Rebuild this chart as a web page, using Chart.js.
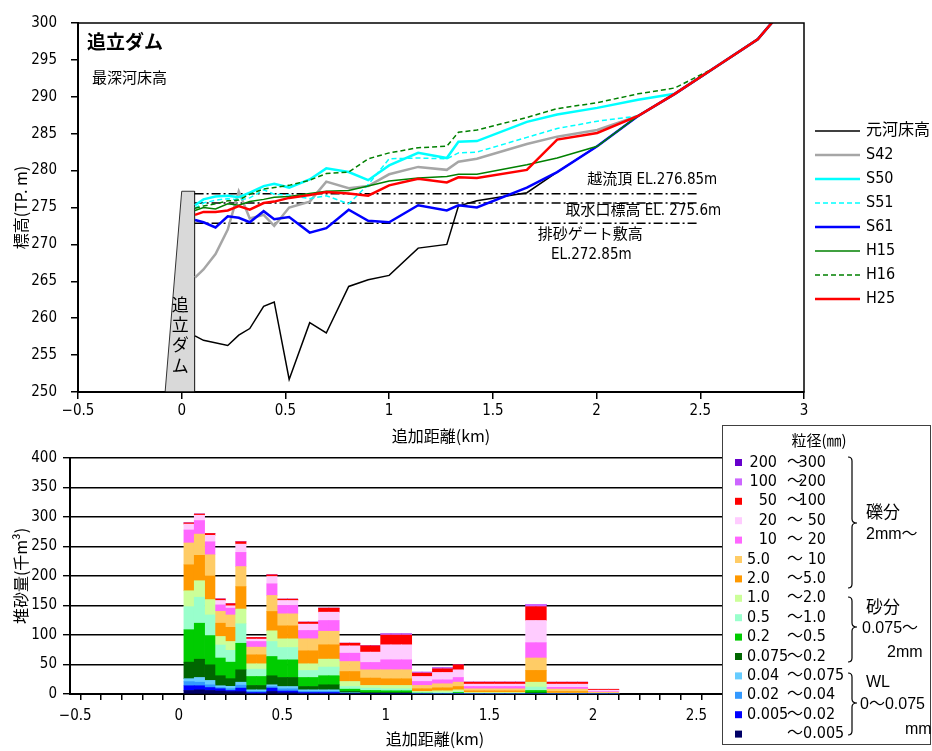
<!DOCTYPE html>
<html lang="ja">
<head>
<meta charset="utf-8">
<title>追立ダム 最深河床高・堆砂量</title>
<script src="https://cdn.jsdelivr.net/npm/chart.js@4.4.1/dist/chart.umd.min.js"></script>
<style>
  html, body { margin: 0; padding: 0; background: #fff; }
  body { width: 932px; height: 751px; position: relative; overflow: hidden; }
  canvas { position: absolute; left: 0; }
  #profile { top: 0; }
  #sediment { top: 420px; }
</style>
</head>
<body>
<canvas id="profile" width="932" height="460"></canvas>
<canvas id="sediment" width="932" height="331"></canvas>
<script>
// ---------- 最深河床高 (top) ----------
const stationKm = [0.064, 0.105, 0.163, 0.222, 0.275, 0.328, 0.395, 0.446, 0.518, 0.617, 0.697, 0.805, 0.899,
                   1.0, 1.14, 1.278, 1.334, 1.423, 1.664, 1.81, 2.003, 2.2, 2.377, 2.567, 2.777, 2.85];
const bedOriginal = [257.6, 257.0, null, 256.3, 257.7, 258.6, 261.6, 262.2, 251.7, 259.4, 258.0, 264.3, 265.2,
                     265.8, 269.5, 270.0, 275.2, 275.9, 277.0, 279.8, 283.3, 287.4, 290.4, 293.9, 297.8, 300.2];
const bedS42 = [265.5, 266.6, 268.7, 272.0, 277.2, 273.5, 274.0, 272.5, 275.0, 275.8, 278.5, 277.6, 277.9,
                279.5, 280.5, 280.1, 281.2, 281.6, 283.6, 284.6, 285.5, 287.4, 290.4, 293.9, 297.8, 300.2];
const bedS50 = [275.3, 276.1, 276.5, 276.6, 276.4, 277.0, 277.9, 278.2, 277.7, 278.8, 280.3, 279.8, 278.7,
                280.7, 282.4, 281.7, 283.9, 284.0, 286.6, 287.6, 288.5, 289.6, 290.4, 293.9, 297.8, 300.2];
const bedS51 = [274.9, 275.6, 276.0, 276.2, 276.0, 276.3, 277.4, 276.8, 276.7, 276.2, 276.6, 275.5, 278.1,
                281.6, 281.7, 281.6, 282.4, 282.5, 284.5, 285.7, 286.7, 287.4, 290.4, 293.9, 297.8, 300.2];
const bedS61 = [273.3, 273.0, 272.3, 273.8, 273.6, 273.0, 274.5, 273.4, 273.7, 271.6, 272.2, 274.7, 273.2,
                273.0, 275.3, 274.6, 275.3, 275.0, 277.7, 279.8, 283.3, 287.4, 290.4, 293.9, 297.8, 300.2];
const bedH15 = [274.6, 275.0, 274.8, 275.5, 275.3, 275.8, 276.1, 276.4, 276.5, 276.9, 277.2, 277.3, 277.9,
                278.6, 279.0, 279.2, 279.5, 279.5, 280.8, 281.7, 283.3, 287.4, 290.4, 293.9, 297.8, 300.2];
const bedH16 = [274.9, 275.2, 275.5, 275.9, 276.0, 276.8, 277.5, 277.7, 278.0, 278.7, 279.6, 279.8, 281.6,
                282.4, 283.1, 283.3, 285.2, 285.5, 287.2, 288.4, 289.2, 290.4, 291.2, 293.9, 297.8, 300.2];
const bedH25 = [274.0, 274.4, 274.4, 274.6, 275.2, 274.7, 275.6, 275.8, 276.3, 276.7, 277.1, 276.9, 276.6,
                278.0, 278.9, 278.4, 279.1, 279.0, 280.1, 284.2, 285.1, 287.4, 290.4, 293.9, 297.8, 300.2];

// dam body outline (km, EL) and the reference levels
const damKm = [-0.08, 0.0, 0.062, 0.062];
const damEL = [250, 277.2, 277.2, 250];
const crestEL = 276.85;   // 越流頂
const intakeEL = 275.6;   // 取水口標高
const sluiceEL = 272.85;  // 排砂ゲート敷高
const levelFromKm = 0.062;
const levelToKm = 2.49;

// ---------- 堆砂量 (bottom) ----------
const sectionFrom = [0.025, 0.075, 0.125, 0.175, 0.225, 0.275, 0.325, 0.425, 0.475, 0.575, 0.675,
                     0.775, 0.875, 0.975, 1.125, 1.225, 1.325, 1.375, 1.675, 1.775, 1.975];
const sectionTo   = [0.075, 0.125, 0.175, 0.225, 0.275, 0.325, 0.425, 0.475, 0.575, 0.675, 0.775,
                     0.875, 0.975, 1.125, 1.225, 1.325, 1.375, 1.675, 1.775, 1.975, 2.125];
// 千m3 per grain-size class, one value per section
const volLt0005   = [6, 7, 6, 5, 4, 4, 1, 4.3, 2, 1, 1, 0.5, 0.3, 0.3, 0, 0, 0, 0, 0, 0, 0];
const vol0005_002 = [8, 7, 5, 4, 2, 6, 1.6, 5.7, 3, 1.6, 1.6, 0.5, 0.3, 0.3, 0, 0, 0, 0, 0, 0, 0];
const vol002_004  = [7, 6, 4.5, 2, 3, 5, 1.9, 2.5, 3.8, 1.9, 1.9, 0.5, 0.3, 0.3, 0, 0, 0, 0, 0, 0, 0];
const vol004_0075 = [5, 8, 7.5, 3, 4, 5, 2.6, 3.1, 3.9, 2.6, 2.6, 0.5, 0.3, 0.3, 0, 0, 0, 0, 0, 0, 0];
const vol0075_02  = [28, 31, 26.5, 17, 13, 21, 7.4, 15.3, 15.3, 5.6, 8.5, 2.3, 1.4, 1.4, 0.5, 0, 0.5, 0, 2, 0, 0];
const vol02_05    = [55, 61, 49.5, 30, 28, 45, 15.2, 32.7, 29.9, 15.3, 15.4, 3.9, 3.4, 2.9, 1, 1, 2.1, 0, 4, 0, 0];
const vol05_1     = [39, 44, 35, 22, 20, 33, 12.4, 25.4, 20.9, 11.9, 14.6, 4.5, 4, 3.4, 1.5, 1.6, 1.7, 1, 5.7, 0, 0];
const vol1_2      = [27, 28, 26, 14.5, 15, 25, 9.1, 18.1, 14.7, 11.3, 13.5, 8.5, 4.5, 5.6, 1.4, 2.8, 2.8, 1.6, 8.3, 1.5, 0];
const vol2_5      = [44, 43, 40, 22.5, 24, 38, 15.2, 32.8, 22, 22, 24.3, 16.9, 12.5, 11.3, 4.5, 5.1, 5.6, 2.8, 20, 2.8, 1];
const vol5_10     = [37, 36, 36, 20, 21, 34, 13, 27.1, 20.4, 20.4, 22.9, 16.9, 14, 15.3, 5.6, 6.8, 7.4, 3.4, 21, 4, 2];
const vol10_20    = [22, 23, 22, 11, 11.5, 24, 9.6, 19.8, 14.1, 14.1, 18.3, 14.2, 12.5, 16.9, 6.8, 6.7, 7.9, 3.9, 26, 3, 1];
const vol20_50    = [10, 9, 11, 7.5, 4, 14, 4, 12.4, 8.5, 10.7, 14.1, 12.4, 17.5, 25.4, 8.4, 12.5, 13, 4, 37.6, 5.4, 2.5];
const vol50_100   = [2, 2, 3, 2.5, 3.5, 4, 2.8, 2.8, 2.3, 3.4, 6.8, 4.5, 10.7, 16.4, 5.7, 6.2, 8.5, 3.4, 23.4, 3.3, 1.5];
const vol100_200  = [0, 0, 0, 0, 0, 0, 0, 0, 0, 0, 0, 0, 0, 2.2, 1.6, 1.7, 0, 0, 4, 0, 0];
const vol200_300  = [0, 0, 0, 0, 0, 0, 0, 0, 0, 0, 0, 0, 0, 0, 0, 0, 0, 0, 0, 0, 0];

const NUM_FONT = "'Liberation Sans Narrow', 'DejaVu Sans Condensed', 'Noto Sans CJK JP', sans-serif";
const JP_FONT = "'Noto Sans CJK JP', sans-serif";
const SANS_FONT = "'Liberation Sans', 'Noto Sans CJK JP', sans-serif";

Chart.defaults.font.family = NUM_FONT;
Chart.defaults.font.size = 15;
Chart.defaults.color = '#000';

function kmLabel(v) {
  return String(Math.round(v * 100) / 100).replace('-', '−');
}

// ---------- top chart ----------
const profileSeries = [
  { name: '元河床高', data: bedOriginal, color: '#000000', width: 1.5, dash: [] },
  { name: 'S42', data: bedS42, color: '#a6a6a6', width: 2.5, dash: [] },
  { name: 'S50', data: bedS50, color: '#00ffff', width: 2.5, dash: [] },
  { name: 'S51', data: bedS51, color: '#00ffff', width: 1.5, dash: [5, 3] },
  { name: 'S61', data: bedS61, color: '#0000ff', width: 2.5, dash: [] },
  { name: 'H15', data: bedH15, color: '#008000', width: 1.5, dash: [] },
  { name: 'H16', data: bedH16, color: '#008000', width: 1.5, dash: [5, 3] },
  { name: 'H25', data: bedH25, color: '#ff0000', width: 2.5, dash: [] }
];

const levelNotes = [
  { text: '越流頂 EL.276.85m', km: 1.955, el: 278.65 },
  { text: '取水口標高 EL. 275.6m', km: 1.85, el: 274.45 },
  { text: '排砂ゲート敷高', km: 1.716, el: 271.3 },
  { text: 'EL.272.85m', km: 1.78, el: 268.6 }
];

const datasetsTop = profileSeries.map((s, i) => ({
  label: s.name,
  data: s.data,
  borderColor: s.color,
  borderWidth: s.width,
  borderDash: s.dash,
  spanGaps: true,
  fill: false,
  pointRadius: 0,
  order: profileSeries.length - i
}));

[crestEL, intakeEL, sluiceEL].forEach(el => {
  datasetsTop.push({
    label: 'EL' + el,
    data: [{ x: levelFromKm, y: el }, { x: levelToKm, y: el }],
    borderColor: '#000',
    borderWidth: 1.5,
    borderDash: [9, 3, 2, 3],
    pointRadius: 0,
    fill: false,
    order: 10
  });
});

datasetsTop.push({
  label: 'dam',
  data: damKm.map((x, i) => ({ x: x, y: damEL[i] })),
  borderColor: '#333',
  borderWidth: 1,
  backgroundColor: '#d9d9d9',
  fill: 'start',
  pointRadius: 0,
  order: 12
});

const profileDecor = {
  id: 'profileDecor',
  afterDraw(chart) {
    const { ctx, chartArea: a, scales: { x, y } } = chart;
    ctx.save();
    ctx.strokeStyle = '#000';
    ctx.lineWidth = 1.5;
    ctx.strokeRect(a.left, a.top, a.right - a.left, a.bottom - a.top);

    ctx.fillStyle = '#000';
    ctx.textBaseline = 'middle';
    ctx.textAlign = 'left';
    ctx.font = 'bold 19px ' + JP_FONT;
    ctx.fillText('追立ダム', a.left + 9, a.top + 19);
    ctx.font = '15px ' + JP_FONT;
    ctx.fillText('最深河床高', a.left + 14, a.top + 54);

    // dam name written down the dam body
    ctx.font = '17px ' + JP_FONT;
    ctx.textAlign = 'center';
    const cx = x.getPixelForValue(-0.007);
    const cy = y.getPixelForValue(261.9);
    '追立ダム'.split('').forEach((ch, i) => ctx.fillText(ch, cx, cy + i * 20.3));

    ctx.textAlign = 'left';
    ctx.font = '15px ' + NUM_FONT;
    levelNotes.forEach(n => ctx.fillText(n.text, x.getPixelForValue(n.km), y.getPixelForValue(n.el)));

    // legend
    profileSeries.forEach((s, i) => {
      const ly = 131 + i * 24;
      ctx.beginPath();
      ctx.strokeStyle = s.color;
      ctx.lineWidth = s.width;
      ctx.setLineDash(s.dash);
      ctx.moveTo(a.right + 11, ly);
      ctx.lineTo(a.right + 56, ly);
      ctx.stroke();
      ctx.setLineDash([]);
      ctx.font = '16px ' + NUM_FONT;
      ctx.fillText(s.name, a.right + 62, ly);
    });
    ctx.restore();
  }
};

new Chart(document.getElementById('profile'), {
  type: 'line',
  data: { labels: stationKm, datasets: datasetsTop },
  options: {
    responsive: false,
    animation: false,
    layout: { padding: { left: 0, right: 128, top: 15, bottom: 14 } },
    plugins: { legend: { display: false }, tooltip: { enabled: false } },
    elements: { line: { tension: 0 } },
    scales: {
      x: {
        type: 'linear', min: -0.5, max: 3,
        ticks: { stepSize: 0.5, padding: 3, callback: v => kmLabel(v), maxRotation: 0 },
        grid: { drawOnChartArea: false, tickLength: 7, color: '#000', lineWidth: 1.5 },
        border: { color: '#000', width: 2 },
        title: { display: true, text: '追加距離(km)', font: { family: JP_FONT, size: 16 }, padding: { top: 0, bottom: 0 } },
        afterFit: s => { s.height = 54; }
      },
      y: {
        min: 250, max: 300,
        ticks: { stepSize: 5, padding: 14 },
        grid: { drawOnChartArea: false, tickLength: 7, color: '#000', lineWidth: 1.5 },
        border: { color: '#000', width: 2 },
        title: { display: true, text: '標高(TP. m)', font: { family: JP_FONT, size: 16 }, padding: { top: 11, bottom: 0 } },
        afterFit: s => { s.width = 78; }
      }
    }
  },
  plugins: [profileDecor]
});

// ---------- bottom chart ----------
const grainClasses = [
  { lo: '',      hi: '0.005', vol: volLt0005,   color: '#000066' },
  { lo: '0.005', hi: '0.02',  vol: vol0005_002, color: '#0000ff' },
  { lo: '0.02',  hi: '0.04',  vol: vol002_004,  color: '#3399ff' },
  { lo: '0.04',  hi: '0.075', vol: vol004_0075, color: '#66ccff' },
  { lo: '0.075', hi: '0.2',   vol: vol0075_02,  color: '#006600' },
  { lo: '0.2',   hi: '0.5',   vol: vol02_05,    color: '#00cc00' },
  { lo: '0.5',   hi: '1.0',   vol: vol05_1,     color: '#99ffcc' },
  { lo: '1.0',   hi: '2.0',   vol: vol1_2,      color: '#ccff99' },
  { lo: '2.0',   hi: '5.0',   vol: vol2_5,      color: '#ff9900' },
  { lo: '5.0',   hi: '10',    vol: vol5_10,     color: '#ffcc66' },
  { lo: '10',    hi: '20',    vol: vol10_20,    color: '#ff66ff' },
  { lo: '20',    hi: '50',    vol: vol20_50,    color: '#ffccff' },
  { lo: '50',    hi: '100',   vol: vol50_100,   color: '#ff0000' },
  { lo: '100',   hi: '200',   vol: vol100_200,  color: '#cc66ff' },
  { lo: '200',   hi: '300',   vol: vol200_300,  color: '#6600cc' }
];

// each section is split into 0.05 km columns
const binKm = [];
const binSection = [];
sectionFrom.forEach((from, s) => {
  const n = Math.round((sectionTo[s] - from) / 0.05);
  for (let j = 0; j < n; j++) {
    binKm.push(Math.round((from + 0.025 + 0.05 * j) * 1000) / 1000);
    binSection.push(s);
  }
});

const tickMarksKm = [];
for (let k = 0; k <= 35; k++) tickMarksKm.push(Math.round((-0.525 + 0.1 * k) * 1000) / 1000);

function drawBrace(ctx, x, y1, y2, tip) {
  ctx.beginPath();
  ctx.moveTo(x - 4, y1);
  ctx.quadraticCurveTo(x, y1, x, y1 + 4);
  ctx.lineTo(x, tip - 4);
  ctx.quadraticCurveTo(x, tip, x + 5, tip);
  ctx.quadraticCurveTo(x, tip, x, tip + 4);
  ctx.lineTo(x, y2 - 4);
  ctx.quadraticCurveTo(x, y2, x - 4, y2);
  ctx.stroke();
}

const sedimentDecor = {
  id: 'sedimentDecor',
  afterDraw(chart) {
    const { ctx } = chart;
    ctx.save();
    ctx.fillStyle = '#fff';
    ctx.fillRect(722, 5, 210, 320);
    ctx.strokeStyle = '#404040';
    ctx.lineWidth = 1;
    ctx.strokeRect(722.5, 5.5, 208, 319);

    ctx.fillStyle = '#000';
    ctx.textBaseline = 'middle';
    ctx.textAlign = 'center';
    ctx.font = '15px ' + JP_FONT;
    ctx.fillText('粒径(㎜)', 819, 20);

    ctx.font = '16px ' + NUM_FONT;
    grainClasses.slice().reverse().forEach((g, i) => {
      const ly = 42.5 + i * 19.4;
      ctx.fillStyle = g.color;
      ctx.fillRect(735, ly - 3.5, 7, 7);
      ctx.fillStyle = '#000';
      if (g.lo.includes('.')) {
        ctx.textAlign = 'left';
        ctx.fillText(g.lo, 747, ly);
      } else if (g.lo) {
        ctx.textAlign = 'right';
        ctx.fillText(g.lo, 777, ly);
      }
      ctx.textAlign = 'left';
      ctx.fillText('～', 787, ly);
      if (g.hi.length <= 3) {
        ctx.textAlign = 'right';
        ctx.fillText(g.hi, 826, ly);
      } else {
        ctx.textAlign = 'left';
        ctx.fillText(g.hi, 803, ly);
      }
    });

    ctx.strokeStyle = '#000';
    ctx.lineWidth = 1.2;
    drawBrace(ctx, 852, 37, 168, 103);
    drawBrace(ctx, 852, 177, 242, 207);
    drawBrace(ctx, 852, 253, 315, 283);

    ctx.textAlign = 'left';
    ctx.font = '17px ' + JP_FONT;
    ctx.fillText('礫分', 866, 92);
    ctx.fillText('砂分', 866, 187);
    ctx.font = '16px ' + SANS_FONT;
    ctx.fillText('2mm～', 866, 115);
    ctx.fillText('0.075～', 862, 209);
    ctx.fillText('2mm', 887, 233);
    ctx.fillText('WL', 866, 263);
    ctx.fillText('0～0.075', 860, 285);
    ctx.fillText('mm', 905, 310);
    ctx.restore();
  }
};

new Chart(document.getElementById('sediment'), {
  type: 'bar',
  data: {
    labels: binKm,
    datasets: grainClasses.map(g => ({
      label: (g.lo ? g.lo : '') + '～' + g.hi,
      data: binSection.map(s => g.vol[s]),
      backgroundColor: g.color,
      borderWidth: 0,
      categoryPercentage: 1,
      barPercentage: 1
    }))
  },
  options: {
    responsive: false,
    animation: false,
    layout: { padding: { left: 0, right: 132, top: 38, bottom: 2 } },
    plugins: { legend: { display: false }, tooltip: { enabled: false } },
    scales: {
      x: {
        type: 'linear', min: -0.525, max: 3.0, stacked: true, offset: false,
        afterBuildTicks: axis => { axis.ticks = tickMarksKm.map(v => ({ value: v })); },
        ticks: {
          autoSkip: false, maxRotation: 0, padding: 7, labelOffset: 5.2,
          callback: v => {
            const km = Math.round((v + 0.025) * 1000) / 1000;
            return Math.abs(km * 2 - Math.round(km * 2)) < 1e-6 ? kmLabel(km) : '';
          }
        },
        grid: { drawOnChartArea: false, tickLength: 6, color: '#000', lineWidth: 1.5 },
        border: { color: '#000', width: 2 },
        title: { display: true, text: '追加距離(km)', font: { family: JP_FONT, size: 16 }, padding: { top: 0, bottom: 0 } },
        afterFit: s => { s.height = 55; }
      },
      y: {
        stacked: true, min: 0, max: 400,
        ticks: { stepSize: 50, padding: 6 },
        grid: { tickLength: 7, color: '#000', lineWidth: 1.4 },
        border: { color: '#000', width: 2 },
        title: { display: true, text: '堆砂量(千m³)', font: { family: JP_FONT, size: 16 }, padding: { top: 11, bottom: 0 } },
        afterFit: s => { s.width = 70; }
      }
    }
  },
  plugins: [sedimentDecor]
});
</script>
</body>
</html>
